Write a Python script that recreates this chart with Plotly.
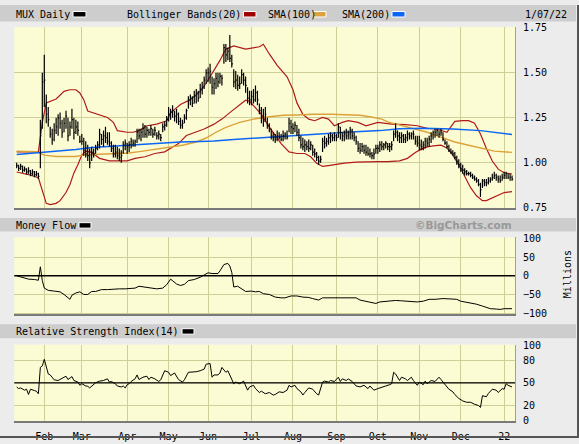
import plotly.graph_objects as go
import pandas as pd

# trading sessions shown on the chart
holidays = ['2021-01-18', '2021-02-15', '2021-04-02', '2021-05-31',
            '2021-07-05', '2021-09-06', '2021-11-25', '2021-12-24']
sessions = [d for d in pd.bdate_range('2021-01-11', '2022-01-07')
            if d.strftime('%Y-%m-%d') not in holidays]
day = list(range(len(sessions)))

month_labels = ['Feb', 'Mar', 'Apr', 'May', 'Jun', 'Jul', 'Aug', 'Sep', 'Oct', 'Nov', 'Dec', '22']

# MUX daily bars (one line per month)
high = [
    1.00, 0.99, 0.995, 0.985, 0.98, 0.97, 0.975, 0.96, 0.965, 0.955, 0.955, 0.945, 1.24, 1.50,
    1.60, 1.38, 1.31, 1.20, 1.19, 1.22, 1.25, 1.27, 1.28, 1.24, 1.25, 1.29, 1.25, 1.23, 1.30, 1.25, 1.24, 1.23, 1.15,
    1.16, 1.14, 1.12, 1.10, 1.08, 1.09, 1.08, 1.10, 1.12, 1.19, 1.16, 1.18, 1.20, 1.17, 1.17, 1.12, 1.10, 1.10, 1.09, 1.08, 1.07, 1.12, 1.13,
    1.11, 1.12, 1.14, 1.13, 1.13, 1.19, 1.19, 1.19, 1.22, 1.21, 1.20, 1.19, 1.21, 1.19, 1.20, 1.17, 1.18, 1.16, 1.22, 1.23, 1.26,
    1.31, 1.30, 1.32, 1.29, 1.30, 1.28, 1.25, 1.24, 1.27, 1.30, 1.37, 1.38, 1.37, 1.40, 1.41, 1.40, 1.44, 1.45, 1.48, 1.52,
    1.53, 1.55, 1.48, 1.47, 1.50, 1.50, 1.50, 1.49, 1.66, 1.66, 1.64, 1.71, 1.60, 1.52, 1.51, 1.49, 1.48, 1.52, 1.50, 1.48, 1.42, 1.40,
    1.40, 1.41, 1.43, 1.40, 1.33, 1.31, 1.30, 1.31, 1.25, 1.22, 1.19, 1.17, 1.16, 1.18, 1.17, 1.16, 1.18, 1.17, 1.18, 1.25, 1.24,
    1.22, 1.23, 1.21, 1.19, 1.15, 1.14, 1.13, 1.12, 1.13, 1.12, 1.10, 1.08, 1.06, 1.04, 1.04, 1.14, 1.15, 1.14, 1.16, 1.17, 1.16, 1.17,
    1.16, 1.22, 1.20, 1.17, 1.18, 1.19, 1.18, 1.20, 1.19, 1.17, 1.15, 1.12, 1.11, 1.11, 1.10, 1.10, 1.09, 1.08, 1.06, 1.08, 1.10,
    1.10, 1.12, 1.12, 1.11, 1.12, 1.11, 1.11, 1.12, 1.18, 1.22, 1.18, 1.17, 1.17, 1.16, 1.16, 1.18, 1.17, 1.17, 1.18, 1.15, 1.15,
    1.15, 1.13, 1.12, 1.14, 1.14, 1.15, 1.17, 1.18, 1.19, 1.19, 1.18, 1.19, 1.17, 1.13, 1.12, 1.10, 1.08, 1.07, 1.06, 1.04, 1.02,
    1.00, 0.99, 0.97, 0.96, 0.95, 0.95, 0.94, 0.93, 0.92, 0.91, 0.89, 0.91, 0.91, 0.91, 0.92, 0.92, 0.94, 0.95, 0.94, 0.93, 0.93, 0.94,
    0.95, 0.95, 0.94, 0.94, 0.93,
]
low = [
    0.97, 0.955, 0.96, 0.945, 0.95, 0.935, 0.94, 0.925, 0.93, 0.92, 0.925, 0.91, 0.97, 1.19,
    1.31, 1.22, 1.20, 1.14, 1.10, 1.12, 1.16, 1.15, 1.19, 1.14, 1.17, 1.19, 1.12, 1.15, 1.19, 1.13, 1.16, 1.15, 1.11,
    1.10, 1.04, 1.03, 1.01, 0.97, 1.01, 1.03, 1.05, 1.07, 1.08, 1.10, 1.09, 1.11, 1.10, 1.09, 1.06, 1.03, 1.03, 1.02, 1.01, 1.00, 1.05, 1.07,
    1.05, 1.06, 1.08, 1.09, 1.09, 1.11, 1.13, 1.12, 1.14, 1.14, 1.14, 1.15, 1.15, 1.14, 1.15, 1.13, 1.13, 1.12, 1.17, 1.18, 1.20,
    1.23, 1.24, 1.25, 1.23, 1.22, 1.21, 1.19, 1.19, 1.22, 1.24, 1.30, 1.32, 1.31, 1.33, 1.33, 1.34, 1.36, 1.38, 1.41, 1.44,
    1.45, 1.44, 1.38, 1.38, 1.41, 1.42, 1.44, 1.43, 1.55, 1.56, 1.57, 1.56, 1.53, 1.42, 1.41, 1.40, 1.41, 1.44, 1.43, 1.39, 1.33, 1.32,
    1.32, 1.33, 1.34, 1.32, 1.27, 1.22, 1.20, 1.23, 1.19, 1.17, 1.13, 1.12, 1.11, 1.12, 1.13, 1.12, 1.12, 1.13, 1.13, 1.17, 1.16,
    1.16, 1.17, 1.15, 1.12, 1.08, 1.07, 1.06, 1.07, 1.06, 1.07, 1.04, 1.03, 1.01, 0.99, 1.00, 1.06, 1.08, 1.09, 1.10, 1.11, 1.12, 1.12,
    1.12, 1.14, 1.13, 1.12, 1.12, 1.13, 1.13, 1.13, 1.13, 1.12, 1.10, 1.06, 1.05, 1.06, 1.05, 1.04, 1.04, 1.03, 1.02, 1.02, 1.05,
    1.05, 1.06, 1.07, 1.07, 1.08, 1.07, 1.06, 1.07, 1.12, 1.14, 1.12, 1.11, 1.11, 1.11, 1.11, 1.12, 1.13, 1.13, 1.13, 1.10, 1.09,
    1.07, 1.07, 1.07, 1.08, 1.09, 1.09, 1.11, 1.13, 1.14, 1.15, 1.14, 1.15, 1.12, 1.10, 1.08, 1.06, 1.05, 1.04, 1.02, 0.99, 0.97,
    0.95, 0.94, 0.93, 0.93, 0.93, 0.92, 0.91, 0.90, 0.89, 0.87, 0.81, 0.86, 0.87, 0.87, 0.88, 0.89, 0.90, 0.91, 0.90, 0.89, 0.89, 0.90,
    0.91, 0.91, 0.91, 0.90, 0.90,
]
close = [
    0.985, 0.97, 0.98, 0.96, 0.965, 0.95, 0.955, 0.94, 0.95, 0.935, 0.94, 0.925, 1.15, 1.45,
    1.46, 1.27, 1.24, 1.16, 1.13, 1.18, 1.20, 1.25, 1.22, 1.17, 1.22, 1.26, 1.15, 1.20, 1.24, 1.17, 1.20, 1.18, 1.12,
    1.12, 1.07, 1.05, 1.04, 1.00, 1.06, 1.05, 1.08, 1.10, 1.16, 1.13, 1.15, 1.14, 1.12, 1.11, 1.08, 1.05, 1.06, 1.04, 1.03, 1.04, 1.10, 1.11,
    1.09, 1.10, 1.12, 1.11, 1.12, 1.17, 1.15, 1.17, 1.19, 1.16, 1.18, 1.17, 1.19, 1.16, 1.18, 1.15, 1.16, 1.14, 1.20, 1.21, 1.24,
    1.27, 1.28, 1.29, 1.26, 1.27, 1.23, 1.21, 1.22, 1.25, 1.29, 1.35, 1.36, 1.33, 1.37, 1.39, 1.36, 1.41, 1.42, 1.46, 1.50,
    1.50, 1.51, 1.42, 1.44, 1.47, 1.45, 1.48, 1.47, 1.64, 1.60, 1.62, 1.58, 1.55, 1.45, 1.46, 1.43, 1.44, 1.49, 1.46, 1.43, 1.36, 1.35,
    1.37, 1.35, 1.39, 1.35, 1.29, 1.25, 1.23, 1.27, 1.21, 1.19, 1.15, 1.14, 1.13, 1.15, 1.14, 1.13, 1.15, 1.16, 1.14, 1.22, 1.20,
    1.19, 1.21, 1.17, 1.14, 1.10, 1.09, 1.10, 1.09, 1.08, 1.10, 1.06, 1.05, 1.03, 1.01, 1.02, 1.12, 1.11, 1.12, 1.14, 1.15, 1.14, 1.15,
    1.14, 1.20, 1.17, 1.15, 1.16, 1.15, 1.16, 1.18, 1.15, 1.14, 1.12, 1.08, 1.07, 1.09, 1.07, 1.06, 1.05, 1.05, 1.04, 1.05, 1.08,
    1.08, 1.10, 1.09, 1.10, 1.11, 1.09, 1.09, 1.10, 1.16, 1.17, 1.15, 1.14, 1.15, 1.13, 1.14, 1.16, 1.15, 1.16, 1.16, 1.12, 1.11,
    1.10, 1.09, 1.10, 1.12, 1.11, 1.13, 1.15, 1.17, 1.17, 1.18, 1.16, 1.17, 1.13, 1.11, 1.09, 1.07, 1.06, 1.05, 1.03, 1.01, 0.99,
    0.97, 0.96, 0.95, 0.94, 0.94, 0.93, 0.92, 0.91, 0.90, 0.88, 0.85, 0.90, 0.89, 0.89, 0.90, 0.91, 0.92, 0.93, 0.92, 0.91, 0.90, 0.92,
    0.93, 0.94, 0.92, 0.92, 0.91,
]

# indicator lines, read at sample sessions
bb_up_day = [0, 11, 13, 15, 20, 24, 27, 30, 32, 34, 36, 41, 46, 49, 51, 56, 59, 62, 66, 71, 76, 78, 83, 88, 93, 96,
             100, 103, 106, 110, 116, 120, 123, 125, 128, 132, 137, 140, 142, 145, 148, 151, 155, 158, 161, 165,
             168, 173, 177, 183, 190, 197, 203, 208, 213, 218, 222, 226, 229, 232, 235, 238, 241, 244, 247, 251]
bb_up = [1.061, 1.061, 1.225, 1.333, 1.355, 1.397, 1.406, 1.406, 1.388, 1.351, 1.288, 1.270, 1.252, 1.225, 1.179,
         1.170, 1.170, 1.179, 1.206, 1.215, 1.234, 1.279, 1.324, 1.351, 1.397, 1.442, 1.514, 1.569, 1.632, 1.650,
         1.632, 1.638, 1.645, 1.659, 1.605, 1.542, 1.478, 1.406, 1.333, 1.270, 1.243, 1.234, 1.252, 1.243, 1.206,
         1.225, 1.234, 1.225, 1.206, 1.225, 1.215, 1.212, 1.206, 1.192, 1.188, 1.170, 1.230, 1.234, 1.234, 1.220,
         1.160, 1.080, 1.010, 0.965, 0.945, 0.938]
bb_lo_day = [0, 6, 11, 13, 15, 17, 20, 22, 25, 27, 29, 31, 33, 35, 38, 42, 47, 56, 60, 65, 70, 75, 78, 82, 86, 91,
             95, 100, 104, 108, 112, 116, 118, 121, 124, 127, 130, 134, 138, 142, 146, 149, 152, 155, 158, 162, 166,
             172, 178, 183, 188, 194, 198, 202, 205, 208, 211, 215, 218, 221, 224, 227, 230, 233, 236, 238, 241, 244,
             247, 251]
bb_lo = [0.949, 0.935, 0.917, 0.844, 0.775, 0.768, 0.775, 0.790, 0.835, 0.880, 0.944, 0.989, 1.043, 1.065, 1.058,
         1.025, 1.011, 1.011, 1.025, 1.034, 1.052, 1.061, 1.080, 1.107, 1.152, 1.170, 1.188, 1.215, 1.243, 1.279,
         1.315, 1.348, 1.342, 1.306, 1.270, 1.215, 1.170, 1.107, 1.061, 1.052, 1.052, 1.034, 0.998, 0.980, 0.985,
         0.993, 0.998, 1.004, 1.007, 1.007, 1.007, 1.011, 1.025, 1.058, 1.076, 1.089, 1.094, 1.098, 1.083, 1.043,
         0.989, 0.926, 0.862, 0.817, 0.790, 0.790, 0.804, 0.822, 0.835, 0.840]
sma100_day = [0, 10, 14, 20, 30, 34, 42, 50, 57, 64, 69, 76, 84, 91, 96, 101, 106, 113, 120, 127, 135, 142, 150,
              159, 168, 174, 181, 185, 188, 195, 202, 208, 215, 222, 229, 236, 242, 251]
sma100 = [1.065, 1.062, 1.043, 1.035, 1.035, 1.043, 1.048, 1.052, 1.055, 1.065, 1.074, 1.083, 1.098, 1.116, 1.138,
          1.170, 1.197, 1.225, 1.243, 1.255, 1.264, 1.266, 1.270, 1.270, 1.268, 1.264, 1.252, 1.243, 1.228, 1.207,
          1.188, 1.170, 1.143, 1.116, 1.098, 1.080, 1.065, 1.058]
sma200_day = [0, 11, 20, 30, 38, 47, 59, 70, 83, 93, 100, 110, 123, 138, 150, 167, 184, 194, 206, 221, 235, 245, 251]
sma200 = [1.047, 1.056, 1.065, 1.074, 1.085, 1.092, 1.101, 1.110, 1.116, 1.119, 1.121, 1.130, 1.139, 1.152, 1.161,
          1.170, 1.179, 1.190, 1.192, 1.188, 1.179, 1.165, 1.158]

# money flow, millions
mf_day = [0, 3, 6, 9, 11, 12, 13, 14, 16, 19, 22, 24, 26, 27, 28, 30, 32, 34, 36, 38, 40, 43, 46, 49, 52, 55, 58,
          60, 62, 65, 68, 71, 74, 76, 78, 80, 81, 83, 85, 87, 90, 93, 95, 97, 99, 102, 103, 105, 107, 108, 109, 110,
          112, 114, 116, 119, 121, 123, 125, 128, 131, 134, 136, 139, 142, 145, 148, 150, 153, 155, 158, 162, 165,
          169, 172, 174, 177, 179, 182, 184, 188, 192, 195, 199, 203, 206, 209, 212, 216, 220, 223, 225, 229, 233,
          236, 240, 243, 245, 247, 251]
mf = [0, -4, -9, -10, -12, 24, -13, -33, -39, -41, -43, -50, -59, -63, -52, -46, -43, -50, -50, -42, -42, -37, -37,
      -35, -35, -35, -35, -33, -28, -30, -31, -35, -33, -24, -9, -17, -22, -26, -23, -13, -10, -4, 3, 8, 6, 6, 13,
      30, 33, 26, 9, -30, -28, -35, -42, -41, -43, -42, -48, -50, -57, -59, -59, -54, -54, -57, -58, -61, -65, -59,
      -59, -57, -57, -58, -59, -65, -68, -72, -74, -70, -68, -66, -67, -68, -70, -68, -63, -63, -61, -62, -63, -68,
      -71, -76, -81, -88, -89, -90, -88, -88]

# RSI(14)
rsi_day = [0, 1, 2, 4, 5, 6, 7, 8, 9, 10, 11, 12, 13, 14, 15, 16, 17, 18, 19, 21, 23, 24, 25, 26, 28, 29, 31, 32,
           33, 35, 36, 37, 39, 40, 42, 44, 46, 47, 48, 50, 51, 53, 54, 55, 56, 57, 58, 60, 61, 62, 64, 66, 67, 68,
           70, 72, 73, 75, 77, 78, 80, 81, 82, 84, 85, 87, 89, 91, 93, 95, 96, 98, 99, 100, 102, 103, 104, 105, 106,
           107, 108, 110, 111, 113, 115, 116, 117, 118, 120, 121, 123, 124, 126, 128, 130, 131, 133, 135, 137, 138,
           139, 141, 142, 144, 145, 146, 148, 150, 151, 152, 153, 155, 156, 158, 159, 161, 163, 164, 165, 167, 168,
           170, 172, 174, 176, 178, 179, 181, 183, 185, 187, 189, 190, 191, 192, 194, 195, 197, 198, 200, 201, 203,
           204, 206, 207, 208, 210, 212, 214, 215, 217, 219, 221, 222, 224, 226, 228, 230, 232, 234, 235, 236, 238,
           239, 241, 243, 244, 246, 247, 248, 249, 250, 251]
rsi = [44.6, 42.4, 43.3, 40.3, 41.6, 34.6, 41.6, 40.3, 39.8, 39.0, 35.5, 70.6, 72.7, 81.4, 72.7, 61.9, 60.6, 57.6,
       54.1, 53.2, 56.3, 57.6, 58.9, 54.5, 58.4, 53.2, 51.1, 46.8, 48.9, 45.9, 45.5, 43.3, 47.6, 50.2, 52.4, 53.2,
       55.4, 51.1, 51.9, 48.9, 45.9, 44.6, 45.9, 43.3, 47.6, 48.9, 51.9, 55.4, 60.6, 54.5, 57.6, 58.9, 54.5, 57.6,
       55.4, 51.9, 54.1, 66.2, 64.1, 59.7, 63.2, 58.4, 54.5, 51.1, 54.1, 64.1, 64.1, 64.9, 66.2, 68.4, 74.9, 75.8,
       57.6, 60.6, 60.6, 63.2, 70.6, 67.5, 64.1, 66.2, 59.7, 48.9, 51.1, 48.9, 52.4, 46.8, 40.3, 44.6, 46.8, 42.4,
       37.2, 39.0, 35.5, 37.2, 33.8, 34.6, 38.1, 37.2, 40.3, 46.8, 44.6, 46.8, 42.4, 38.1, 33.8, 37.2, 43.3, 41.6,
       38.1, 35.5, 33.8, 51.1, 52.4, 51.1, 53.2, 51.9, 57.6, 51.9, 55.4, 53.2, 55.4, 51.9, 45.9, 44.6, 46.8, 42.4,
       45.9, 40.3, 42.4, 44.6, 45.9, 47.6, 48.9, 64.1, 61.9, 53.2, 57.6, 55.4, 53.2, 57.6, 53.2, 46.8, 51.1, 47.6,
       52.4, 48.9, 53.2, 51.9, 57.6, 54.5, 47.6, 41.6, 38.1, 34.6, 29.4, 26.0, 24.2, 24.2, 21.6, 19.9, 17.3, 32.9,
       31.6, 35.9, 41.6, 40.3, 37.2, 42.4, 41.6, 48.9, 46.8, 45.9, 44.6]

W, H = 579, 444
def px(x):
    return x / W
def py(y):
    return 1 - y / H

FONT = 'DejaVu Sans Mono'
GRID = '#cfcf98'
PLOT_BG = '#fcfcd4'

# hlc bars: vertical high-low line plus close tick on the right
bar_x, bar_y = [], []
for i, h, l, c in zip(day, high, low, close):
    bar_x += [i, i, None, i, i + 0.55, None]
    bar_y += [l, h, None, c, c, None]

fig = go.Figure()
fig.add_trace(go.Scatter(x=bb_up_day, y=bb_up, mode='lines', line=dict(color='#b01a1a', width=1.2),
                         xaxis='x', yaxis='y'))
fig.add_trace(go.Scatter(x=bb_lo_day, y=bb_lo, mode='lines', line=dict(color='#b01a1a', width=1.2),
                         xaxis='x', yaxis='y'))
fig.add_trace(go.Scatter(x=sma100_day, y=sma100, mode='lines', line=dict(color='#dca23a', width=1.4),
                         xaxis='x', yaxis='y'))
fig.add_trace(go.Scatter(x=sma200_day, y=sma200, mode='lines', line=dict(color='#0a66f5', width=1.5),
                         xaxis='x', yaxis='y'))
fig.add_trace(go.Scatter(x=bar_x, y=bar_y, mode='lines', line=dict(color='black', width=1.2),
                         xaxis='x', yaxis='y'))
fig.add_trace(go.Scatter(x=mf_day, y=mf, mode='lines', line=dict(color='black', width=1),
                         xaxis='x2', yaxis='y2'))
fig.add_trace(go.Scatter(x=rsi_day, y=rsi, mode='lines', line=dict(color='black', width=1),
                         xaxis='x3', yaxis='y3'))

# month gridlines
month_pos = [i for i in day[1:] if sessions[i].month != sessions[i - 1].month]

xdom = [px(14.3), px(515)]
xr = [-1.2, 252.5]
xcommon = dict(range=xr, domain=xdom, tickvals=month_pos, showgrid=True, gridcolor=GRID, gridwidth=1.2,
               zeroline=False, showline=True, linecolor='#7a7a7a', linewidth=1.5, ticks='')
ycommon = dict(side='right', showgrid=True, gridcolor=GRID, gridwidth=1.2, zeroline=False,
               showline=True, linecolor='#a0a0a0', linewidth=1, ticks='outside', ticklen=5,
               tickcolor='rgba(0,0,0,0)', tickfont=dict(family=FONT, size=10, color='black'))

fig.update_layout(
    width=W, height=H, margin=dict(l=0, r=0, t=0, b=0),
    paper_bgcolor='#ececec', plot_bgcolor=PLOT_BG, showlegend=False,
    xaxis=dict(xcommon, anchor='y', showticklabels=False),
    xaxis2=dict(xcommon, anchor='y2', showticklabels=False),
    xaxis3=dict(xcommon, anchor='y3', ticktext=month_labels, ticks='outside', ticklen=5,
                tickcolor='rgba(0,0,0,0)', tickfont=dict(family=FONT, size=10, color='black')),
    yaxis=dict(ycommon, anchor='x', domain=[py(208), py(22.5)], range=[0.75, 1.755],
               tickvals=[0.75, 1.0, 1.25, 1.5, 1.75], ticktext=['0.75', '1.00', '1.25', '1.50', '1.75']),
    yaxis2=dict(ycommon, anchor='x2', domain=[py(317.3), py(238.3)], range=[-103.4, 102.6],
                tickvals=[-100, -50, 0, 50, 100]),
    yaxis3=dict(ycommon, anchor='x3', domain=[py(426.7), py(348.3)], range=[-0.9, 100.9],
                tickvals=[0, 20, 50, 80, 100]),
)

shapes = []
# header strips
for y0, y1 in [(0, 17), (218.3, 232.3), (327.3, 341.7)]:
    shapes.append(dict(type='rect', xref='paper', yref='paper', x0=0, x1=px(576), y0=py(y1), y1=py(y0),
                       fillcolor='#cdcdcd', line=dict(width=0), layer='below'))
# outer border
shapes.append(dict(type='line', xref='paper', yref='paper', x0=px(578), x1=px(578), y0=0, y1=1,
                   line=dict(color='#555555', width=2)))
shapes.append(dict(type='line', xref='paper', yref='paper', x0=0, x1=1, y0=py(443), y1=py(443),
                   line=dict(color='#555555', width=2)))
# reference lines
shapes.append(dict(type='line', xref='x2 domain', yref='y2', x0=0, x1=1, y0=0, y1=0,
                   line=dict(color='black', width=1.3)))
shapes.append(dict(type='line', xref='x3 domain', yref='y3', x0=0, x1=1, y0=50, y1=50,
                   line=dict(color='black', width=1.3)))
# legend swatches
for x0, x1, yc, col in [(73, 86, 9.5, 'black'), (243.5, 256, 9.5, '#a00000'), (313.5, 326, 9.5, '#dca23a'),
                        (392, 405, 9.5, '#0a66f5'), (79, 91, 226, 'black'), (182, 194, 334.7, 'black')]:
    shapes.append(dict(type='rect', xref='paper', yref='paper', x0=px(x0), x1=px(x1),
                       y0=py(yc + 2.8), y1=py(yc - 2.8), fillcolor=col, line=dict(color='white', width=1)))
fig.update_layout(shapes=shapes)

texts = [
    ('MUX Daily', 14, 9.5), ('Bollinger Bands(20)', 125, 9.5), ('SMA(100)', 265.5, 9.5),
    ('SMA(200)', 340, 9.5), ('1/07/22', 522.5, 9.5), ('Money Flow', 14, 226),
    ('Relative Strength Index(14)', 14, 334.7),
]
for t, x, y in texts:
    fig.add_annotation(text=t, xref='paper', yref='paper', x=px(x), y=py(y), xanchor='left', yanchor='middle',
                       showarrow=False, font=dict(family=FONT, size=10, color='black'))
fig.add_annotation(text='<b>©BigCharts.com</b>', xref='paper', yref='paper', x=px(514), y=py(226),
                   xanchor='right', yanchor='middle', showarrow=False,
                   font=dict(family='DejaVu Sans', size=10.5, color='#999999'))
fig.add_annotation(text='Millions', xref='paper', yref='paper', x=px(567), y=py(276), textangle=-90,
                   xanchor='center', yanchor='middle', showarrow=False,
                   font=dict(family=FONT, size=10, color='black'))

# the page's default body margin would shift the figure off the window
fig.write_html('out.html', config={'displayModeBar': False},
               post_script="document.body.style.margin='0';")
